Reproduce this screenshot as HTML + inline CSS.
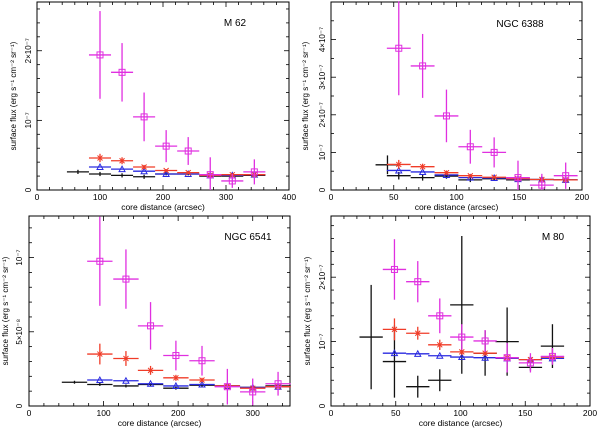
<!DOCTYPE html>
<html><head><meta charset="utf-8"><style>
html,body{margin:0;padding:0;background:#fff;}
svg{display:block;font-family:"Liberation Sans",sans-serif;}
</style></head><body>
<svg id="fig" width="600" height="429" viewBox="0 0 600 429" xmlns="http://www.w3.org/2000/svg"></svg>
<script>
// ---- data (flux in units of the panel's yUnit) ----
const m62X=[100,135,170,205,240,275,310,345];
const m62BlackX=[65,100,135,170,205,240,275,310,345];
const m62Mag=[1.94,1.69,1.05,0.63,0.56,0.22,0.13,0.26];
const m62MagErr=[0.63,0.42,0.35,0.23,0.20,0.25,0.10,0.18];
const m62Red=[0.46,0.42,0.33,0.28,0.25,0.21,0.22,0.22];
const m62RedErr=[0.06,0.05,0.03,0.02,0.02,0.02,0.02,0.02];
const m62Blue=[0.33,0.30,0.27,0.23,0.23,0.21,0.21,0.22];
const m62Black=[0.26,0.23,0.21,0.19,0.23,0.23,0.20,0.20,0.21];
const m62BlackErr=[0.03,0.03,0.03,0.03,0.02,0.02,0.02,0.02,0.02];

const n6388X=[54,73,92,111,130,149,168,187];
const n6388BlackX=[45,54,73,92,111,130,149,168,187];
const n6388Mag=[3.77,3.30,1.97,1.15,1.00,0.33,0.13,0.38];
const n6388MagErr=[1.25,0.85,0.70,0.45,0.40,0.45,0.30,0.35];
const n6388Red=[0.68,0.62,0.46,0.38,0.34,0.30,0.28,0.27];
const n6388RedErr=[0.12,0.08,0.06,0.04,0.03,0.03,0.03,0.03];
const n6388Blue=[0.52,0.48,0.40,0.33,0.32,0.29,0.28,0.27];
const n6388Black=[0.67,0.38,0.33,0.37,0.27,0.30,0.27,0.28,0.27];
const n6388BlackErr=[0.25,0.10,0.08,0.07,0.06,0.05,0.05,0.05,0.05];

const n6541X=[95,130,163,197,232,266,300,334];
const n6541BlackX=[61,95,130,163,197,232,266,300,334];
const n6541Mag=[9.75,8.55,5.4,3.4,3.05,1.3,0.95,1.5];
const n6541MagErr=[3.0,2.0,1.6,1.0,1.0,1.2,0.9,0.8];
const n6541Red=[3.5,3.2,2.4,1.9,1.75,1.35,1.2,1.3];
const n6541RedErr=[0.7,0.5,0.3,0.2,0.15,0.1,0.1,0.1];
const n6541Blue=[1.75,1.7,1.5,1.35,1.45,1.35,1.25,1.3];
const n6541Black=[1.6,1.45,1.35,1.45,1.2,1.4,1.35,1.25,1.35];
const n6541BlackErr=[0.1,0.1,0.1,0.1,0.1,0.1,0.1,0.1,0.1];

const m80X=[49,67,84,101,119,136,154,171];
const m80BlackX=[31,49,67,84,101,119,136,154,171];
const m80Mag=[2.12,1.93,1.40,1.07,1.01,0.75,0.67,0.77];
const m80MagErr=[0.47,0.32,0.27,0.20,0.17,0.23,0.15,0.13];
const m80Red=[1.19,1.13,0.95,0.84,0.82,0.75,0.72,0.76];
const m80RedErr=[0.17,0.10,0.08,0.05,0.04,0.04,0.03,0.03];
const m80Blue=[0.82,0.81,0.78,0.76,0.75,0.74,0.72,0.74];
const m80Black=[1.07,0.69,0.30,0.40,1.57,0.82,1.00,0.60,0.93];
const m80BlackErr=[0.81,0.56,0.17,0.17,1.07,0.35,0.53,0.05,0.34];

const panels=[
 {name:"m62",title:"M 62",x0:37,x1:289,y0:2,y1:190,xMax:400,yMax:2.7,halfW:17.5,
  xTicks:[0,100,200,300,400],xMinor:20,yTicks:[[0,"0"],[1,"10⁻⁷"],[2,"2×10⁻⁷"]],yMinor:0.2,
  tx:235,ty:26,labX:31,titX:16,
  x:m62X,bx:m62BlackX,mag:m62Mag,magE:m62MagErr,red:m62Red,redE:m62RedErr,blue:m62Blue,black:m62Black,blackE:m62BlackErr},
 {name:"ngc6388",title:"NGC 6388",x0:331,x1:582,y0:2,y1:190,xMax:200,yMax:5.0,halfW:9.5,
  xTicks:[0,50,100,150,200],xMinor:10,yTicks:[[0,"0"],[1,"10⁻⁷"],[2,"2×10⁻⁷"],[3,"3×10⁻⁷"],[4,"4×10⁻⁷"]],yMinor:0.5,
  tx:520,ty:27,labX:325,titX:308,
  x:n6388X,bx:n6388BlackX,mag:n6388Mag,magE:n6388MagErr,red:n6388Red,redE:n6388RedErr,blue:n6388Blue,black:n6388Black,blackE:n6388BlackErr},
 {name:"ngc6541",title:"NGC 6541",x0:29,x1:290,y0:216,y1:406,xMax:350,yMax:12.8,halfW:17,
  xTicks:[0,100,200,300],xMinor:20,yTicks:[[0,"0"],[5,"5×10⁻⁸"],[10,"10⁻⁷"]],yMinor:1,
  tx:248,ty:240,labX:22,titX:8,
  x:n6541X,bx:n6541BlackX,mag:n6541Mag,magE:n6541MagErr,red:n6541Red,redE:n6541RedErr,blue:n6541Blue,black:n6541Black,blackE:n6541BlackErr},
 {name:"m80",title:"M 80",x0:331,x1:590,y0:216,y1:406,xMax:200,yMax:2.95,halfW:9,
  xTicks:[0,50,100,150,200],xMinor:10,yTicks:[[0,"0"],[1,"10⁻⁷"],[2,"2×10⁻⁷"]],yMinor:0.2,
  tx:553,ty:240,labX:325,titX:310,
  x:m80X,bx:m80BlackX,mag:m80Mag,magE:m80MagErr,red:m80Red,redE:m80RedErr,blue:m80Blue,black:m80Black,blackE:m80BlackErr}
];

const NS="http://www.w3.org/2000/svg";
const svg=document.getElementById('fig');
function mk(tag,attrs,parent){const e=document.createElementNS(NS,tag);for(const k in attrs)e.setAttribute(k,attrs[k]);(parent||svg).appendChild(e);return e;}

panels.forEach(p=>{
  const g=mk('g',{});
  
  
  const sx=v=>p.x0+v/p.xMax*(p.x1-p.x0);
  const sy=v=>p.y1-v/p.yMax*(p.y1-p.y0);
  const frame=mk('rect',{x:p.x0,y:p.y0,width:p.x1-p.x0,height:p.y1-p.y0,fill:'none',stroke:'#000','stroke-width':1},g);
  
  
  // x ticks
  for(let v=0;v<=p.xMax+1e-9;v+=p.xMinor){
    const X=sx(v);const major=p.xTicks.includes(Math.round(v));const L=major?5:3;
    mk('line',{x1:X,x2:X,y1:p.y1,y2:p.y1-L,stroke:'#000','stroke-width':0.8},g);
    mk('line',{x1:X,x2:X,y1:p.y0,y2:p.y0+L,stroke:'#000','stroke-width':0.8},g);
  }
  p.xTicks.forEach(v=>{
    const t=mk('text',{x:sx(v),y:p.y1+10,'font-size':8.5,'text-anchor':'middle'},g);t.textContent=v;
    
    
  });
  for(let v=0;v<=p.yMax+1e-9;v+=p.yMinor){
    const Y=sy(v);const major=p.yTicks.some(t=>Math.abs(t[0]-v)<1e-6);const L=major?5:3;
    mk('line',{x1:p.x0,x2:p.x0+L,y1:Y,y2:Y,stroke:'#000','stroke-width':0.8},g);
    mk('line',{x1:p.x1,x2:p.x1-L,y1:Y,y2:Y,stroke:'#000','stroke-width':0.8},g);
  }
  p.yTicks.forEach(t0=>{
    const Y=sy(t0[0]);
    const t=mk('text',{x:p.labX,y:Y,'font-size':8,'text-anchor':'middle',transform:`rotate(-90 ${p.labX} ${Y})`},g);t.textContent=t0[1];
    
    
  });
  const xt=mk('text',{x:(p.x0+p.x1)/2,y:p.y1+20,'font-size':8.5,'text-anchor':'middle'},g);
  xt.textContent='core distance (arcsec)';
  
  
  const yc=(p.y0+p.y1)/2;
  const yt=mk('text',{x:p.titX,y:yc,'font-size':8,'text-anchor':'middle',transform:`rotate(-90 ${p.titX} ${yc})`},g);
  yt.textContent='surface flux (erg s⁻¹ cm⁻² sr⁻¹)';
  
  
  const tt=mk('text',{x:p.tx,y:p.ty,'font-size':10,'text-anchor':'middle'},g);
  tt.textContent=p.title;
  
  

  function series(xs,ys,es,color,marker,sname,w){
    const sg=mk('g',{},g);
    
    
    xs.forEach((xv,i)=>{
      const X=sx(xv),Y=sy(ys[i]);
      mk('line',{x1:sx(xv-p.halfW),x2:sx(xv+p.halfW),y1:Y,y2:Y,stroke:color,'stroke-width':w},sg);
      if(es){mk('line',{x1:X,x2:X,y1:sy(ys[i]+es[i]),y2:sy(Math.max(0,ys[i]-es[i])),stroke:color,'stroke-width':w},sg);}
      if(marker==='sq') mk('rect',{x:X-3,y:Y-3,width:6,height:6,fill:'none',stroke:color,'stroke-width':1},sg);
      if(marker==='tri') mk('path',{d:`M${X-3} ${Y+2.5}L${X+3} ${Y+2.5}L${X} ${Y-3}Z`,fill:'none',stroke:color,'stroke-width':1},sg);
      if(marker==='star'){mk('path',{d:`M${X-2.5} ${Y-2.5}L${X+2.5} ${Y+2.5}M${X+2.5} ${Y-2.5}L${X-2.5} ${Y+2.5}`,stroke:color,'stroke-width':1},sg);}
    });
  }
  series(p.bx,p.black,p.blackE,'#111','none','black-series',1.3);
  series(p.x,p.blue,null,'#2a2ae0','tri','blue-series',1.3);
  series(p.x,p.red,p.redE,'#f03c28','star','red-series',1.3);
  series(p.x,p.mag,p.magE,'#e030e0','sq','magenta-series',1.3);
});
</script>
</body></html>
